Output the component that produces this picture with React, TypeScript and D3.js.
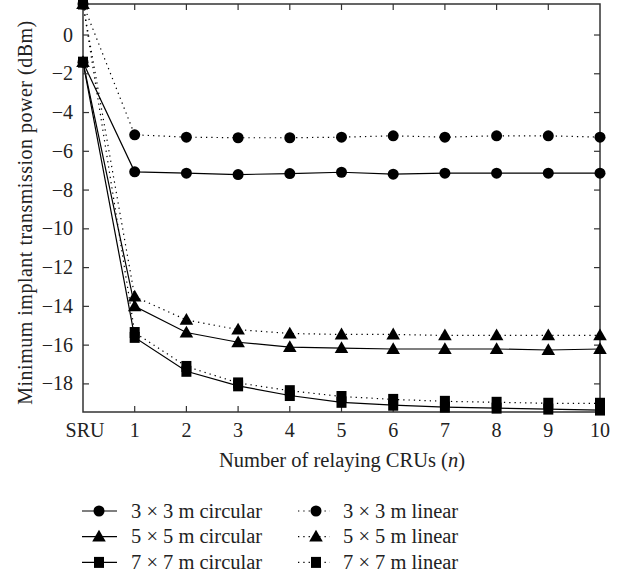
import React from "react";
import * as d3 from "d3";

const categories = ["SRU", "1", "2", "3", "4", "5", "6", "7", "8", "9", "10"];
const yTicks = [0, -2, -4, -6, -8, -10, -12, -14, -16, -18];

const c3 = [-1.4, -7.06, -7.13, -7.2, -7.15, -7.08, -7.18, -7.13, -7.13, -7.13, -7.13];
const l3 = [1.6, -5.15, -5.27, -5.3, -5.3, -5.27, -5.2, -5.27, -5.2, -5.2, -5.27];
const c5 = [-1.4, -14.0, -15.35, -15.85, -16.1, -16.15, -16.2, -16.2, -16.2, -16.25, -16.2];
const l5 = [1.6, -13.5, -14.7, -15.2, -15.4, -15.45, -15.45, -15.5, -15.5, -15.5, -15.5];
const c7 = [-1.4, -15.6, -17.35, -18.1, -18.6, -18.95, -19.1, -19.2, -19.25, -19.3, -19.35];
const l7 = [1.6, -15.35, -17.1, -17.95, -18.35, -18.65, -18.8, -18.9, -18.95, -19.0, -19.0];

type S = { label: string; values: number[]; marker: "circle" | "triangle" | "square"; dotted: boolean };
const series: S[] = [
  { label: "3 × 3 m circular", values: c3, marker: "circle", dotted: false },
  { label: "3 × 3 m linear", values: l3, marker: "circle", dotted: true },
  { label: "5 × 5 m circular", values: c5, marker: "triangle", dotted: false },
  { label: "5 × 5 m linear", values: l5, marker: "triangle", dotted: true },
  { label: "7 × 7 m circular", values: c7, marker: "square", dotted: false },
  { label: "7 × 7 m linear", values: l7, marker: "square", dotted: true },
];

const W = 629, H = 580;
const L = 83, R = 600, T = 4, B = 412;
const FONT = "'Liberation Serif', 'Times New Roman', serif";

function Marker({ kind, x, y }: { kind: string; x: number; y: number }) {
  if (kind === "circle") return <circle cx={x} cy={y} r={5.5} fill="#000" />;
  if (kind === "square") return <rect x={x - 5} y={y - 5.5} width={10} height={11} fill="#000" />;
  const sym = d3.symbol().type(d3.symbolTriangle).size(80)();
  return <path d={sym as string} transform={`translate(${x},${y + 1})`} fill="#000" />;
}

export default function App() {
  const x = d3.scaleLinear().domain([0, 10]).range([L, R]);
  const y = d3.scaleLinear().domain([-19.45, 1.6]).range([B, T]);
  const line = d3.line<number>().x((_, i) => x(i)).y((d) => y(d));
  const axisColor = "#333";
  const textColor = "#222";
  const legendRows = [0, 1, 2];
  return (
    <svg width={W} height={H} style={{ position: "absolute", left: 0, top: 0, background: "#fff" }} fontFamily={FONT}>
      {series.map((s, i) => (
        <path key={"l" + i} d={line(s.values) as string} fill="none" stroke="#000" strokeWidth={1.2}
          strokeDasharray={s.dotted ? "1.3 4" : undefined} />
      ))}
      <rect x={L} y={T} width={R - L} height={B - T} fill="none" stroke={axisColor} strokeWidth={1.5} />
      {categories.map((c, i) => (
        <g key={"xt" + i}>
          {i > 0 && i < 10 && <line x1={x(i)} x2={x(i)} y1={B} y2={B - 6} stroke={axisColor} strokeWidth={1.2} />}
          {i > 0 && i < 10 && <line x1={x(i)} x2={x(i)} y1={T} y2={T + 6} stroke={axisColor} strokeWidth={1.2} />}
          <text x={x(i) + (i === 0 ? 2 : 0)} y={437} textAnchor="middle" fontSize={20} fill={textColor}>{c}</text>
        </g>
      ))}
      {yTicks.map((v) => (
        <g key={"yt" + v}>
          <line x1={L} x2={L + 6} y1={y(v)} y2={y(v)} stroke={axisColor} strokeWidth={1.2} />
          <line x1={R} x2={R - 6} y1={y(v)} y2={y(v)} stroke={axisColor} strokeWidth={1.2} />
          <text x={73} y={y(v) + 6.5} textAnchor="end" fontSize={20} fill={textColor}>{v < 0 ? "−" + Math.abs(v) : String(v)}</text>
        </g>
      ))}
      {series.map((s, i) => (
        <g key={"m" + i}>
          {s.values.map((v, j) => <Marker key={j} kind={s.marker} x={x(j)} y={y(v)} />)}
        </g>
      ))}
      <text x={342} y={467} textAnchor="middle" fontSize={20.5} fill={textColor}>
        Number of relaying CRUs (<tspan fontStyle="italic">n</tspan>)
      </text>
      <text transform={`translate(32,212.5) rotate(-90)`} textAnchor="middle" fontSize={20} letterSpacing={0.5} fill={textColor}>
        Minimum implant transmission power (dBm)
      </text>
      {legendRows.map((r) => {
        const cy = 511 + r * 25.7;
        const sc = series[r * 2];
        const sl = series[r * 2 + 1];
        return (
          <g key={"lg" + r}>
            <line x1={82} x2={117} y1={cy} y2={cy} stroke="#000" strokeWidth={1.2} />
            <Marker kind={sc.marker} x={99} y={cy} />
            <text x={131} y={cy + 6.5} fontSize={20.5} fill={textColor}>{sc.label}</text>
            <line x1={298} x2={330} y1={cy} y2={cy} stroke="#000" strokeWidth={1.2} strokeDasharray="1.3 4" />
            <Marker kind={sl.marker} x={316} y={cy} />
            <text x={343} y={cy + 6.5} fontSize={20.5} fill={textColor}>{sl.label}</text>
          </g>
        );
      })}
    </svg>
  );
}
